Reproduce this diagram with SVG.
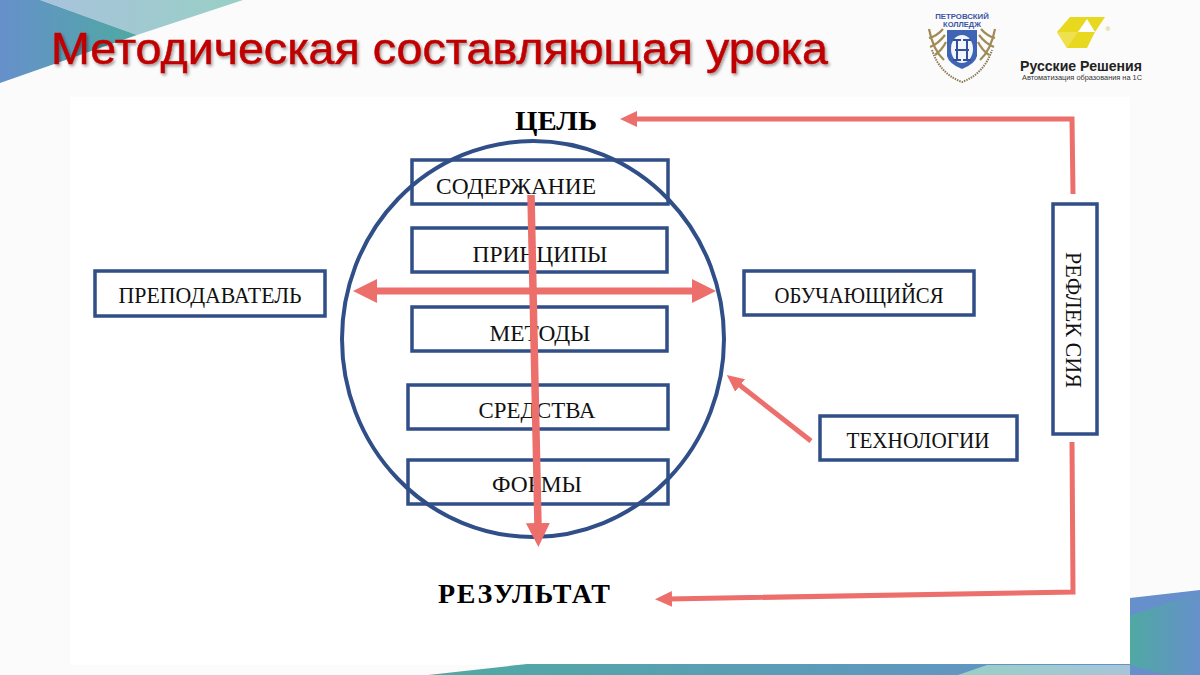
<svg xmlns="http://www.w3.org/2000/svg" width="1200" height="675" viewBox="0 0 1200 675">
<defs>
<linearGradient id="gA" x1="0" y1="0" x2="1" y2="0"><stop offset="0" stop-color="#6690cb"/><stop offset="1" stop-color="#4fa9a2"/></linearGradient>
<linearGradient id="gB" x1="0" y1="0" x2="1" y2="0"><stop offset="0" stop-color="#a9c3dd"/><stop offset="1" stop-color="#98cfc5"/></linearGradient>
<linearGradient id="gC" x1="0" y1="0" x2="1" y2="0"><stop offset="0" stop-color="#4fa9a2"/><stop offset="1" stop-color="#6690cb"/></linearGradient>
<linearGradient id="gD" x1="0" y1="0" x2="1" y2="0"><stop offset="0" stop-color="#98cfc5"/><stop offset="1" stop-color="#a9c3dd"/></linearGradient>
<marker id="ah" markerUnits="userSpaceOnUse" markerWidth="24" markerHeight="26" refX="4" refY="13" orient="auto-start-reverse"><path d="M0 1L24 13L0 25Z" fill="#ec6f6c"/></marker>
<marker id="as" markerUnits="userSpaceOnUse" markerWidth="18" markerHeight="18" refX="4" refY="9" orient="auto-start-reverse"><path d="M0 1L17 9L0 17Z" fill="#ec6f6c"/></marker>
<filter id="sh" x="-5%" y="-20%" width="110%" height="140%"><feDropShadow dx="1.5" dy="2" stdDeviation="1.5" flood-color="#000" flood-opacity="0.4"/></filter>
</defs>
<style>
.box{fill:none;stroke:#304e87;stroke-width:3.5}
.t{font-family:"Liberation Serif","DejaVu Serif",serif;font-size:23px;fill:#111;text-anchor:middle}
.b{font-family:"Liberation Serif","DejaVu Serif",serif;font-size:28px;font-weight:700;fill:#000;text-anchor:middle}
.c{fill:none;stroke:#ec6f6c;stroke-width:5}
.s{font-family:"Liberation Sans",Arial,sans-serif}
.leaf{fill:none;stroke:#a08a55;stroke-width:2.2}
</style>
<rect width="1200" height="675" fill="#fbfbfb"/>
<rect x="70" y="97" width="1060" height="568" fill="#fff"/>
<g id="decor">
<path d="M40 0H243L137 35Z" fill="url(#gB)"/>
<path d="M0 0H40L137 35L0 83Z" fill="url(#gA)"/>
<path d="M428 675L527 664H1130V675Z" fill="url(#gC)"/>
<path d="M958 675L987 665H1130L1168 675Z" fill="url(#gD)"/>
<path d="M1130 598L1200 590V675H1130Z" fill="#6690cb"/>
<path d="M1130 616L1200 592V675H1168L1130 665Z" fill="url(#gC)"/>
</g>
<text id="title" x="51" y="64" font-family="'Liberation Sans',Arial,sans-serif" font-size="44" fill="#c00000" stroke="#c00000" stroke-width="0.5" filter="url(#sh)" textLength="777" lengthAdjust="spacingAndGlyphs">Методическая составляющая урока</text>
<g id="logo-college">
<path d="M947 30H977V56Q975 64 962 69Q949 64 947 56Z" fill="#3f63b5"/>
<ellipse cx="962" cy="49" rx="11" ry="14" fill="#f2f5fb"/>
<path d="M957 40V60M967 40V60M955 50H969M953 40H961M963 40H971M953 60H961M963 60H971" fill="none" stroke="#33509a" stroke-width="2"/>
<path class="leaf" d="M929 29Q933 50 944 60M929 38Q937 36 943 29M930 47Q938 44 945 35M935 55Q942 50 946 42"/>
<path class="leaf" d="M995 29Q991 50 980 60M995 38Q987 36 981 29M994 47Q986 44 979 35M989 55Q982 50 978 42"/>
<path d="M932 50Q940 74 962 82Q984 74 992 50" fill="none" stroke="#8a7c52" stroke-width="2" stroke-dasharray="1.5 1"/>
<text class="s" x="962" y="19" font-size="7.8" font-weight="700" fill="#3a55a5" text-anchor="middle">ПЕТРОВСКИЙ</text>
<text class="s" x="962" y="27" font-size="7.5" font-weight="700" fill="#3a55a5" text-anchor="middle">КОЛЛЕДЖ</text>
</g>
<g id="logo-rr">
<path d="M1070 17H1105L1095 32L1087 48H1067L1057 32Z" fill="#e9d820"/>
<path d="M1057 32L1078 32L1067 48Z" fill="#efe04e"/>
<path d="M1078 32L1087 19L1095 32Z" fill="#fff"/>
<text class="s" x="1081" y="71" font-size="14.5" font-weight="700" fill="#222" text-anchor="middle" textLength="122" lengthAdjust="spacingAndGlyphs">Русские Решения</text>
<text class="s" x="1082" y="80" font-size="7" fill="#333" text-anchor="middle" textLength="120" lengthAdjust="spacingAndGlyphs">Автоматизация образования на 1С</text>
<text class="s" x="1108" y="31" font-size="6" fill="#c9b820" text-anchor="middle">®</text>
</g>
<g id="circle"><ellipse cx="533" cy="339" rx="191" ry="198" fill="none" stroke="#304e87" stroke-width="4"/></g>
<g id="n-cel"><text class="b" x="556" y="130" textLength="82" lengthAdjust="spacingAndGlyphs">ЦЕЛЬ</text></g>
<g id="n-rez"><text class="b" x="524" y="603" textLength="172" lengthAdjust="spacing">РЕЗУЛЬТАТ</text></g>
<g id="n-sod"><rect class="box" x="412" y="160" width="256" height="44"/><text class="t" x="516" y="194" textLength="160" lengthAdjust="spacingAndGlyphs">СОДЕРЖАНИЕ</text></g>
<g id="n-pri"><rect class="box" x="412" y="228" width="255" height="44"/><text class="t" x="540" y="262" textLength="135" lengthAdjust="spacingAndGlyphs">ПРИНЦИПЫ</text></g>
<g id="n-met"><rect class="box" x="412" y="307" width="255" height="44"/><text class="t" x="540" y="341" textLength="101" lengthAdjust="spacingAndGlyphs">МЕТОДЫ</text></g>
<g id="n-sre"><rect class="box" x="408" y="385" width="260" height="44"/><text class="t" x="537" y="418" textLength="117" lengthAdjust="spacingAndGlyphs">СРЕДСТВА</text></g>
<g id="n-for"><rect class="box" x="408" y="460" width="260" height="44"/><text class="t" x="537" y="492" textLength="90" lengthAdjust="spacingAndGlyphs">ФОРМЫ</text></g>
<g id="n-pre"><rect class="box" x="95" y="271" width="230" height="45"/><text class="t" x="210" y="303" textLength="183" lengthAdjust="spacingAndGlyphs">ПРЕПОДАВАТЕЛЬ</text></g>
<g id="n-obu"><rect class="box" x="744" y="271" width="230" height="44"/><text class="t" x="859" y="303" textLength="169" lengthAdjust="spacingAndGlyphs">ОБУЧАЮЩИЙСЯ</text></g>
<g id="n-teh"><rect class="box" x="820" y="416" width="197" height="44"/><text class="t" x="918" y="448" textLength="143" lengthAdjust="spacingAndGlyphs">ТЕХНОЛОГИИ</text></g>
<g id="n-ref"><rect class="box" x="1053" y="204" width="44" height="230"/><text class="t" transform="translate(1066 320) rotate(90)" textLength="136" lengthAdjust="spacingAndGlyphs">РЕФЛЕК СИЯ</text></g>
<g id="connectors">
<path class="c" d="M1073 194L1072 119H633" marker-end="url(#as)"/>
<path class="c" d="M1072 442L1073 592L668 599" marker-end="url(#as)"/>
<path class="c" d="M811 441L737 383" marker-end="url(#as)"/>
<path class="c" d="M373 291H696" marker-end="url(#ah)" marker-start="url(#ah)" style="stroke-width:7"/>
<path class="c" d="M531 195L538 527" marker-end="url(#ah)" style="stroke-width:7.5"/>
</g>
</svg>
